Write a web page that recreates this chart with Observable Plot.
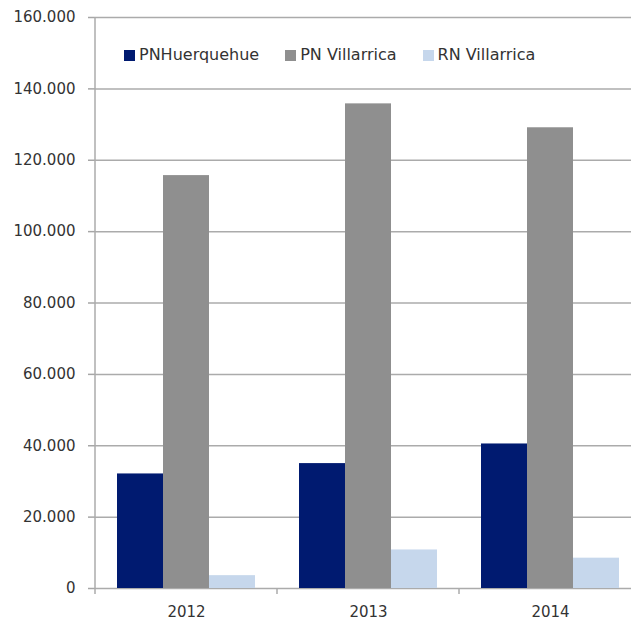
<!DOCTYPE html>
<html>
<head>
<meta charset="utf-8">
<script src="https://cdn.jsdelivr.net/npm/d3@7"></script>
<script src="https://cdn.jsdelivr.net/npm/@observablehq/plot@0.6"></script>
<style>
  html, body { margin: 0; padding: 0; background: #fff; overflow: hidden; }
  #wrap { position: relative; width: 631px; height: 623px; overflow: hidden; }
  #wrap svg { max-width: none !important; display: block; }
  #legend { position: absolute; left: 124px; top: 47px; display: flex; align-items: center; gap: 26px;
            font-family: "DejaVu Sans", sans-serif; font-size: 16px; color: #333; line-height: 16px; white-space: nowrap; }
  #legend .item { display: flex; align-items: center; gap: 4px; }
  #legend .sw { width: 11px; height: 11px; display: inline-block; }
</style>
</head>
<body>
<div id="wrap"><div id="legend"></div></div>
<script>
const years = ["2012", "2013", "2014"];
const series = ["PNHuerquehue", "PN Villarrica", "RN Villarrica"];
const huerquehue = [32100, 35000, 40500];
const pnVillarrica = [115700, 135800, 129100];
const rnVillarrica = [3600, 10800, 8500];
const yTicks = [0, 20000, 40000, 60000, 80000, 100000, 120000, 140000, 160000];
const colors = ["#001a70", "#8f8f8f", "#c6d7ec"];

const seriesValues = [huerquehue, pnVillarrica, rnVillarrica];
const data = years.flatMap((year, i) => series.map((s, j) => ({year, series: s, value: seriesValues[j][i]})));

const fmt = d => d3.format(",")(d).replace(/,/g, ".");

const plot = Plot.plot({
  width: 641,
  height: 623,
  marginLeft: 95,
  marginRight: 0,
  marginTop: 17,
  marginBottom: 35,
  style: {fontFamily: "DejaVu Sans, sans-serif", fontSize: "15px", color: "#a6a6a6", background: "#fff", maxWidth: "none"},
  fx: {domain: years, padding: 0, axis: null, label: null},
  x: {domain: series, paddingInner: 0, paddingOuter: 0.47, axis: null, label: null},
  y: {domain: [0, 160000], axis: null, label: null},
  color: {domain: series, range: colors},
  marks: [
    Plot.ruleY(yTicks, {stroke: "#ababab", strokeWidth: 1.5}),
    Plot.barY(data, {fx: "year", x: "series", y: "value", fill: "series"}),
    Plot.axisY({ticks: yTicks, tickSize: 7, tickPadding: 13, tickFormat: fmt, fill: "#333", fontSize: 15, label: null, strokeWidth: 1.5}),
    Plot.axisFx({anchor: "bottom", tickSize: 0, tickPadding: 18, fill: "#333", fontSize: 15, label: null})
  ]
});

document.getElementById("wrap").prepend(plot);

// axis line and category boundary ticks, positioned with the plot's own scales
const fx = plot.scale("fx");
const y = plot.scale("y");
const svg = d3.select(plot);
const x0 = fx.apply(years[0]);
svg.append("line")
  .attr("x1", x0).attr("x2", x0)
  .attr("y1", y.apply(160000)).attr("y2", y.apply(0))
  .attr("stroke", "#ababab").attr("stroke-width", 1.5);
years.forEach(yr => {
  const xx = fx.apply(yr);
  svg.append("line")
    .attr("x1", xx).attr("x2", xx)
    .attr("y1", y.apply(0)).attr("y2", y.apply(0) + 6)
    .attr("stroke", "#ababab").attr("stroke-width", 1.5);
});

// legend
const legend = d3.select("#legend");
series.forEach((s, i) => {
  const it = legend.append("div").attr("class", "item");
  it.append("span").attr("class", "sw").style("background", colors[i]);
  it.append("span").text(s);
});
</script>
</body>
</html>
